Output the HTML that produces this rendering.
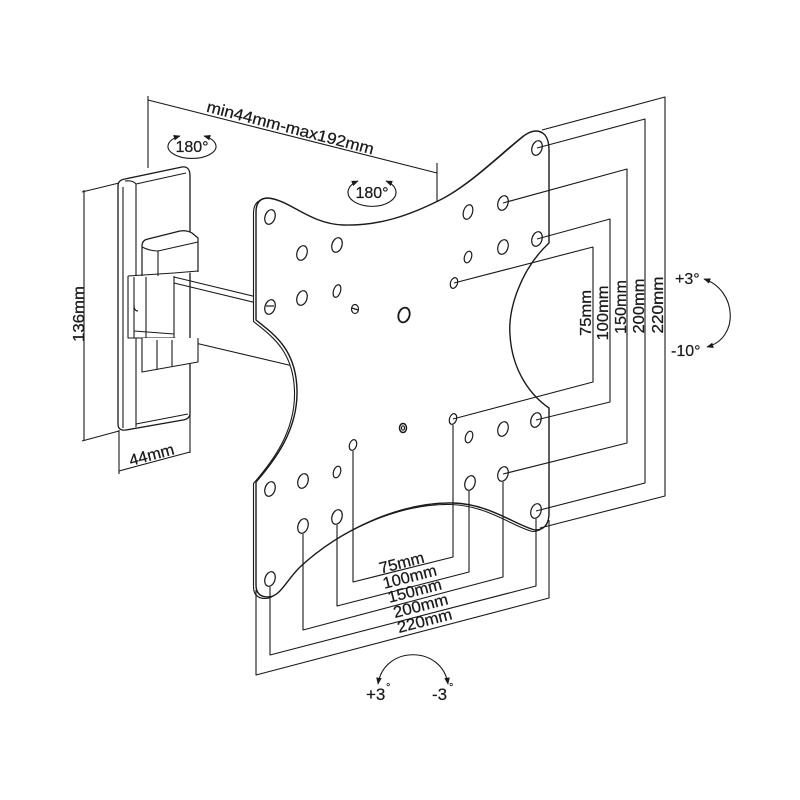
<!DOCTYPE html>
<html><head><meta charset="utf-8"><style>
html,body{margin:0;padding:0;background:#fff;}
svg{display:block;}
text{font-family:"Liberation Sans",sans-serif;fill:#1a1a1a;}
</style></head><body>
<svg width="800" height="800" viewBox="0 0 800 800" xmlns="http://www.w3.org/2000/svg">
<defs>
<marker id="ah" viewBox="0 0 10 8" refX="9" refY="4" markerWidth="7" markerHeight="6" orient="auto-start-reverse" markerUnits="userSpaceOnUse">
<path d="M0,0 L10,4 L0,8 z" fill="#1a1a1a"/>
</marker>
</defs>
<rect width="800" height="800" fill="#fff"/>
<g fill="none" stroke="#1a1a1a" stroke-width="1.1" stroke-linejoin="round">

<!-- top dimension -->
<line x1="148" y1="96" x2="148" y2="168"/>
<line x1="437" y1="163" x2="437" y2="205"/>
<line x1="148" y1="100" x2="437" y2="173"/>

<!-- 180 icons -->
<path d="M180,136 A24 12 0 1 0 204,136" marker-start="url(#ah)" marker-end="url(#ah)"/>
<path d="M358,181 A24 14 0 1 0 386,181" marker-start="url(#ah)" marker-end="url(#ah)"/>

<!-- left dims -->
<line x1="84" y1="190" x2="84" y2="441"/>
<line x1="82" y1="192" x2="119" y2="183"/>
<line x1="82" y1="441" x2="119" y2="431"/>
<line x1="119" y1="430" x2="119" y2="474"/>
<line x1="190" y1="414" x2="190" y2="453"/>
<line x1="119" y1="471" x2="190" y2="452"/>

<!-- wall plate -->
<path d="M118,186 Q118,180 125,179 L182,167 Q190,166 190,176 L190,413 Q190,419 183,420 L126,430 Q118,431 118,424 Z" fill="#fff" stroke-width="1.3"/>
<line x1="123" y1="187" x2="123" y2="428"/>
<line x1="136" y1="184" x2="136" y2="427"/>
<path d="M125,181 Q133,180 136,184 L186,173"/>
<line x1="136" y1="424" x2="188" y2="414"/>

<!-- arm (behind plate) -->
<line x1="174" y1="277" x2="257" y2="297"/>
<line x1="174" y1="283" x2="257" y2="303"/>
<line x1="174" y1="338" x2="293" y2="366"/>

<!-- upper cap -->
<path d="M142,277 L142,246 Q142,240 148,239 L180,231 Q187,230 192,233 L198,238 L198,272" fill="#fff" stroke-width="1.2"/>
<path d="M142,247 Q150,251 158,251 L198,242"/>
<line x1="158" y1="251" x2="158" y2="277"/>

<!-- hinge bracket -->
<path d="M128,276 L174,273 L198,271 M128,276 L128,338 L174,338 L174,276" fill="#fff"/>
<line x1="134" y1="277" x2="134" y2="338"/>
<line x1="146" y1="277" x2="146" y2="338"/>
<path d="M134,305 Q134,311 138,311"/>
<path d="M134,331 L174,334"/>

<!-- lower block -->
<path d="M142,338 L142,372 L198,362 L198,338" fill="#fff"/>
<line x1="157" y1="340" x2="157" y2="370"/>
<line x1="172" y1="340" x2="172" y2="366"/>

<!-- VESA plate thickness (offset) -->
<path transform="translate(-2.5,1.5)" fill="#fff" d="M256,320 L256,212 Q256,198 268,198 C290,200 310,224 343,225 C380,226 410,215 440,200 C470,185 500,155 525,135 Q537,127 545,135 Q549,140 549,150 L549,243 C520,270 508,310 510,335 C512,370 530,395 549,408 L549,515 Q548,530 535,530 C515,525 490,504 453,503 C400,502 340,530 300,567 C285,582 280,597 268,597 Q256,597 256,585 L256,482 C275,460 298,430 297,390 C296,350 275,335 256,320 Z"/>
<!-- VESA plate -->
<path fill="#fff" stroke-width="1.4" d="M256,320 L256,212 Q256,198 268,198 C290,200 310,224 343,225 C380,226 410,215 440,200 C470,185 500,155 525,135 Q537,127 545,135 Q549,140 549,150 L549,243 C520,270 508,310 510,335 C512,370 530,395 549,408 L549,515 Q548,530 535,530 C515,525 490,504 453,503 C400,502 340,530 300,567 C285,582 280,597 268,597 Q256,597 256,585 L256,482 C275,460 298,430 297,390 C296,350 275,335 256,320 Z"/>

<!-- holes large -->
<g stroke-width="1.2">
<ellipse cx="270" cy="217" rx="5" ry="7.5" transform="rotate(18 270 217)"/>
<ellipse cx="537" cy="148" rx="5" ry="7.5" transform="rotate(18 537 148)"/>
<ellipse cx="302" cy="253" rx="5" ry="7.5" transform="rotate(18 302 253)"/>
<ellipse cx="337" cy="245" rx="5" ry="7.5" transform="rotate(18 337 245)"/>
<ellipse cx="468" cy="212" rx="4.5" ry="7.5" transform="rotate(18 468 212)"/>
<ellipse cx="503" cy="203" rx="5" ry="7.5" transform="rotate(18 503 203)"/>
<ellipse cx="302" cy="298" rx="5" ry="7.5" transform="rotate(18 302 298)"/>
<ellipse cx="503" cy="247" rx="5" ry="7.5" transform="rotate(18 503 247)"/>
<ellipse cx="537" cy="239" rx="5" ry="7.5" transform="rotate(18 537 239)"/>
<ellipse cx="270" cy="307" rx="5" ry="7.5" transform="rotate(18 270 307)"/>
<ellipse cx="536" cy="420" rx="5" ry="7.5" transform="rotate(18 536 420)"/>
<ellipse cx="503" cy="429" rx="5" ry="7.5" transform="rotate(18 503 429)"/>
<ellipse cx="303" cy="481" rx="5" ry="7.5" transform="rotate(18 303 481)"/>
<ellipse cx="270" cy="489" rx="5" ry="7.5" transform="rotate(18 270 489)"/>
<ellipse cx="470" cy="483" rx="5" ry="7.5" transform="rotate(18 470 483)"/>
<ellipse cx="503" cy="474" rx="5" ry="7.5" transform="rotate(18 503 474)"/>
<ellipse cx="337" cy="517" rx="5" ry="7.5" transform="rotate(18 337 517)"/>
<ellipse cx="303" cy="526" rx="5" ry="7.5" transform="rotate(18 303 526)"/>
<ellipse cx="536" cy="511" rx="5" ry="7.5" transform="rotate(18 536 511)"/>
<ellipse cx="270" cy="579" rx="5" ry="7.5" transform="rotate(18 270 579)"/>
<!-- small -->
<ellipse cx="468" cy="257" rx="3.5" ry="6" transform="rotate(18 468 257)"/>
<ellipse cx="454" cy="283" rx="3.5" ry="5.5" transform="rotate(18 454 283)"/>
<ellipse cx="337" cy="291" rx="3.5" ry="6.5" transform="rotate(18 337 291)"/>
<ellipse cx="453" cy="419" rx="3.5" ry="5.5" transform="rotate(18 453 419)"/>
<ellipse cx="469" cy="437" rx="3.5" ry="6" transform="rotate(18 469 437)"/>
<ellipse cx="353" cy="445" rx="3.5" ry="5.5" transform="rotate(18 353 445)"/>
<ellipse cx="337" cy="472" rx="3.5" ry="6" transform="rotate(18 337 472)"/>
<!-- special -->
<ellipse cx="355" cy="309" rx="3.5" ry="4.5"/>
<line x1="352" y1="308" x2="358" y2="310"/>
<ellipse cx="404" cy="315" rx="5.5" ry="7.5" stroke-width="1.8" transform="rotate(18 404 315)"/>
<ellipse cx="403" cy="428" rx="3.5" ry="4.5" stroke-width="1.5"/>
<ellipse cx="403" cy="428" rx="1.5" ry="2.2"/>
<line x1="266" y1="306" x2="274" y2="306"/>
</g>

<!-- right dimension leaders -->
<polyline points="454,283 593,247 593,382 453,419"/>
<polyline points="537,239 610,219 610,402 536,420"/>
<polyline points="503,203 627,169 627,443 503,474"/>
<polyline points="537,148 645,119 645,483 536,511"/>
<polyline points="542,130 665,97 665,496 540,528"/>

<!-- bottom dimensions -->
<polyline points="353,451 353,582 453,557 453,425"/>
<polyline points="337,525 337,606 469,572 469,491"/>
<polyline points="303,534 303,630 503,577 503,482"/>
<polyline points="270,587 270,655 536,586 536,519"/>
<polyline points="256,590 256,675 549,598 549,520"/>

<!-- tilt arrows -->
<path d="M704,279 C737,290 740,338 707,347" marker-start="url(#ah)" marker-end="url(#ah)"/>
<path d="M378,684 C384,645 442,645 448,684" marker-start="url(#ah)" marker-end="url(#ah)"/>
</g>

<!-- labels -->
<g font-size="16" stroke="#1a1a1a" stroke-width="0.25">
<text transform="translate(289,133) rotate(14.5)" text-anchor="middle" textLength="172" lengthAdjust="spacingAndGlyphs">min44mm-max192mm</text>
<text x="192" y="152" text-anchor="middle">180°</text>
<text x="372" y="198" text-anchor="middle">180°</text>
<text transform="translate(84,314) rotate(-90)" text-anchor="middle" textLength="56" lengthAdjust="spacingAndGlyphs">136mm</text>
<text transform="translate(153,460) rotate(-15)" text-anchor="middle" textLength="46" lengthAdjust="spacingAndGlyphs">44mm</text>

<text transform="translate(591,313) rotate(-90)" text-anchor="middle" textLength="46" lengthAdjust="spacingAndGlyphs">75mm</text>
<text transform="translate(608,313) rotate(-90)" text-anchor="middle" textLength="55" lengthAdjust="spacingAndGlyphs">100mm</text>
<text transform="translate(626,307) rotate(-90)" text-anchor="middle" textLength="54" lengthAdjust="spacingAndGlyphs">150mm</text>
<text transform="translate(644,306) rotate(-90)" text-anchor="middle" textLength="55" lengthAdjust="spacingAndGlyphs">200mm</text>
<text transform="translate(663,305) rotate(-90)" text-anchor="middle" textLength="57" lengthAdjust="spacingAndGlyphs">220mm</text>

<text transform="translate(403,568) rotate(-14.5)" text-anchor="middle" textLength="46" lengthAdjust="spacingAndGlyphs">75mm</text>
<text transform="translate(411,582) rotate(-14.5)" text-anchor="middle" textLength="55" lengthAdjust="spacingAndGlyphs">100mm</text>
<text transform="translate(416,596) rotate(-14.5)" text-anchor="middle" textLength="55" lengthAdjust="spacingAndGlyphs">150mm</text>
<text transform="translate(422,611) rotate(-14.5)" text-anchor="middle" textLength="56" lengthAdjust="spacingAndGlyphs">200mm</text>
<text transform="translate(426,626) rotate(-14.5)" text-anchor="middle" textLength="56" lengthAdjust="spacingAndGlyphs">220mm</text>
</g>
<g font-size="16" stroke="#1a1a1a" stroke-width="0.2">
<text x="675" y="284">+3°</text>
<text x="671" y="356">-10°</text>
<text x="366" y="700" font-size="17">+3</text>
<text x="386" y="691" font-size="11">°</text>
<text x="432" y="700" font-size="17">-3</text>
<text x="449" y="691" font-size="11">°</text>
</g>
</svg>
</body></html>
